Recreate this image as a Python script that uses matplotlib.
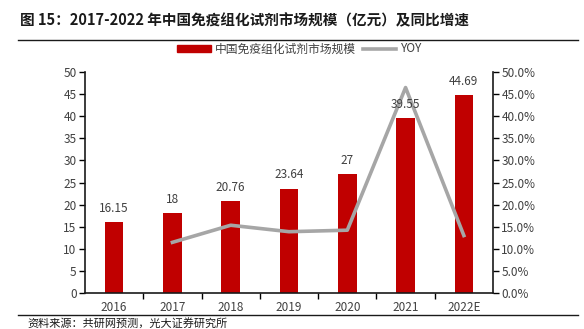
import matplotlib
matplotlib.use("Agg")
import matplotlib.pyplot as plt
from matplotlib.lines import Line2D
from matplotlib.ticker import FuncFormatter, MultipleLocator

plt.rcParams['font.family'] = ['Noto Sans CJK SC', 'DejaVu Sans']

# data
years = ['2016', '2017', '2018', '2019', '2020', '2021', '2022E']
market = [16.15, 18, 20.76, 23.64, 27, 39.55, 44.69]
market_labels = ['16.15', '18', '20.76', '23.64', '27', '39.55', '44.69']
yoy = [None, 11.46, 15.33, 13.87, 14.21, 46.48, 13.0]

bar_color = '#C00000'
line_color = '#A6A6A6'
text_color = '#404040'

fig = plt.figure(figsize=(5.84, 3.29), dpi=100)
W, H = 584, 329
ax = fig.add_axes([85 / W, 1 - 293 / H, (493 - 85) / W, (293 - 72) / H])
ax2 = ax.twinx()

x = list(range(len(years)))
ax.bar(x, market, width=0.32, color=bar_color, zorder=2)

xs = [xi for xi, v in zip(x, yoy) if v is not None]
ys = [v for v in yoy if v is not None]
ax2.plot(xs, ys, color=line_color, linewidth=2.6, zorder=3)

# both axes share 0-50, so bar labels go on the twin axis to sit over the line
for xi, v, lab in zip(x, market, market_labels):
    ax2.text(xi, v + 1.6, lab, ha='center', va='bottom', fontsize=8.5,
             color=text_color, zorder=5)

ax.set_xlim(-0.5, len(years) - 0.5)
ax.set_ylim(0, 50)
ax2.set_ylim(0, 50)
ax.yaxis.set_major_locator(MultipleLocator(5))
ax2.yaxis.set_major_locator(MultipleLocator(5))
ax2.yaxis.set_major_formatter(FuncFormatter(lambda v, p: f'{v:.1f}%'))

ax.set_xticks(x)
ax.set_xticklabels(years)
ax.set_xticks([i + 0.5 for i in x[:-1]], minor=True)
ax.tick_params(axis='x', which='major', length=0, pad=6, labelsize=8.5, labelcolor=text_color)
ax.tick_params(axis='x', which='minor', length=4, width=1, direction='out')
ax.tick_params(axis='y', length=4, width=1, labelsize=8.5, labelcolor=text_color, pad=2)
ax2.tick_params(axis='y', length=4, width=1, labelsize=8.5, labelcolor=text_color, pad=2)

for a in (ax, ax2):
    a.spines['top'].set_visible(False)
    for s in ('left', 'right', 'bottom'):
        a.spines[s].set_linewidth(1.2)
        a.spines[s].set_color('#1a1a1a')
ax.spines['right'].set_visible(False)
ax2.spines['left'].set_visible(False)
ax2.spines['bottom'].set_visible(False)

handles = [plt.Rectangle((0, 0), 1, 1, color=bar_color),
           Line2D([0], [0], color=line_color, linewidth=2.6)]
fig.legend(handles, ['中国免疫组化试剂市场规模', 'YOY'], loc='center',
           bbox_to_anchor=(300 / W, 1 - 49 / H), ncol=2, frameon=False,
           fontsize=8.5, handlelength=2.8, handleheight=0.6, columnspacing=0.6,
           handletextpad=0.4, labelcolor=text_color)

fig.text(20 / W, 1 - 20 / H, '图 15：2017-2022 年中国免疫组化试剂市场规模（亿元）及同比增速',
         fontsize=10.5, fontweight='bold', va='center', ha='left', color='#1a1a1a')
fig.add_artist(Line2D([18 / W, 578 / W], [1 - 40 / H, 1 - 40 / H], color='#1a1a1a', linewidth=1))
fig.add_artist(Line2D([18 / W, 578 / W], [1 - 315 / H, 1 - 315 / H], color='#1a1a1a', linewidth=1))
fig.text(27 / W, 1 - 323 / H, '资料来源：共研网预测，光大证券研究所', fontsize=8,
         va='center', ha='left', color='#1a1a1a')

fig.savefig('out.png', dpi=100)
